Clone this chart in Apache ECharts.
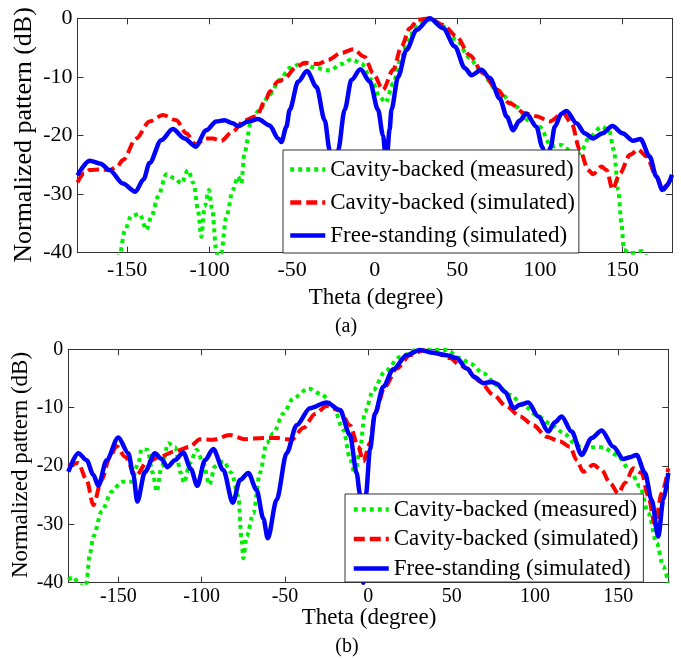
<!DOCTYPE html>
<html><head><meta charset="utf-8">
<script src="https://cdn.jsdelivr.net/npm/echarts@6/dist/echarts.min.js"></script>
<style>html,body{margin:0;padding:0;background:#fff}#c{width:681px;height:660px}</style>
</head><body><div id="c"></div>
<script>
const xTicks = [-150, -100, -50, 0, 50, 100, 150];
const yTicks = [-40, -30, -20, -10, 0];
const seriesNames = ['Cavity-backed (measured)', 'Cavity-backed (simulated)', 'Free-standing (simulated)'];

// Panel (a): [theta (deg), normalized pattern (dB)]
const aCavMeas = [[-158,-45],[-154.3,-40.1],[-151.3,-36.1],[-147.4,-33.7],[-142.3,-33.4],[-138.3,-36.1],[-135.3,-33.9],[-131.2,-30.4],[-126.2,-26.6],[-121.2,-27.3],[-117.1,-28.2],[-113.1,-25.9],[-109.6,-28.2],[-107.1,-32.7],[-105,-37.3],[-103,-32.1],[-100.4,-29.3],[-98.4,-32.7],[-96,-39.5],[-94.5,-42],[-93,-40.1],[-89.9,-33.9],[-85.9,-29.3],[-82.8,-27],[-80.8,-28.2],[-78.9,-23],[-74.8,-17.4],[-69.7,-15.6],[-63.6,-13],[-57.5,-10.5],[-51.5,-8.5],[-44.4,-7.7],[-35.3,-8.5],[-27.3,-8.9],[-20.2,-7.8],[-14.1,-7],[-8.1,-7.7],[-2,-10.5],[3,-13.4],[6.7,-14.4],[11.1,-11.1],[16.2,-6.6],[21.2,-2.8],[27.3,-0.6],[33.3,-0.3],[41.4,-1.4],[49.5,-3.7],[57.5,-6.8],[63.6,-8.8],[73.7,-12.2],[85.8,-15.1],[92.9,-17.4],[99.9,-18.5],[107,-21.9],[113.1,-21.6],[116.1,-22.2],[120.1,-23.6],[124.2,-23],[130.3,-20.2],[137.3,-18.5],[141.9,-19.1],[144.8,-22.5],[147.4,-29.3],[149.4,-35],[150.8,-39.5],[154.4,-40.1],[157.5,-40],[161.5,-39.7],[163.5,-40.1],[166,-43]];
const aCavSim = [[-180,-28],[-176,-26.5],[-172.6,-25.9],[-166,-25.8],[-160.6,-25.9],[-156,-25.3],[-152.5,-24.2],[-144.4,-20.5],[-136.4,-17.6],[-128.3,-16.5],[-120.2,-17.4],[-114.2,-19.6],[-108.5,-21.5],[-102,-20.5],[-98,-20.5],[-93,-20.9],[-86,-19.3],[-78.9,-17.4],[-71.8,-16.7],[-65.8,-13.8],[-63.6,-12.5],[-58.6,-10.8],[-55.5,-10.5],[-47.4,-8.3],[-42.4,-7.6],[-34.3,-7.8],[-28.3,-7.1],[-20.2,-5.9],[-13.1,-5.3],[-6.1,-6.6],[-1,-9.4],[5,-12.2],[11.1,-8.8],[16.2,-4.8],[21.2,-1.7],[26.2,-0.2],[33.3,0],[41.4,-1.1],[49.5,-3.1],[57.5,-6.3],[65.6,-9.4],[73.7,-12.1],[81.8,-14.5],[90.9,-16.2],[97.9,-16.7],[106,-17.6],[114.1,-16.2],[119.2,-17.9],[124.2,-22.5],[129.3,-25.9],[132.2,-26.6],[137.3,-25.3],[140.4,-25.9],[144,-29.2],[148.4,-26.5],[154.5,-23.3],[159.5,-22.4],[164.6,-23.6],[170.6,-27],[174.6,-29.3],[180,-27]];
const aFree = [[-180,-26.8],[-172.6,-24.3],[-166,-24.8],[-160.6,-25.9],[-152.5,-28.2],[-145,-29.6],[-140,-27.5],[-136.4,-24.7],[-129.3,-20.8],[-122.3,-18.9],[-115.2,-20.5],[-108.5,-21.9],[-102,-19.1],[-96,-17.6],[-91,-17.4],[-86,-17.9],[-82.8,-18.4],[-76.7,-17.6],[-70.7,-17.2],[-63.6,-18.3],[-58.5,-20.5],[-56.5,-21.1],[-53.5,-18.5],[-51.5,-15.6],[-46.4,-10.8],[-41,-9.0],[-35.3,-11.7],[-30.3,-17.4],[-27.3,-22.5],[-25,-35],[-22.2,-22.5],[-18.2,-15.6],[-14.1,-10.5],[-8.7,-8.7],[-3,-10.8],[2,-15.6],[5,-20],[7,-25],[9,-19],[10.1,-15.6],[14.1,-10],[19.2,-5.4],[25.3,-2],[33.3,0],[41.4,-1.7],[48.5,-4.8],[54.5,-8.5],[58.6,-9.7],[64.6,-8.8],[69.7,-10.2],[75.7,-13.7],[80,-16.8],[83.8,-19.1],[87.5,-17.5],[91.9,-16.3],[97.9,-18.5],[101.5,-22],[104,-25],[106.5,-22],[109,-18.5],[113,-16.3],[116.1,-15.8],[122.2,-17.9],[127,-19.6],[132.2,-20.5],[138,-19.6],[143.9,-18.4],[150,-19.6],[156.4,-20.9],[160.9,-20.6],[166.5,-23.6],[170.5,-27],[174.2,-29.3],[177,-28.5],[180,-26.7]];

// Panel (b)
const bCavMeas = [[-180,-39.5],[-177,-39],[-173,-40.5],[-169.4,-40.5],[-167,-35],[-165,-32.1],[-160,-27.8],[-154,-24.4],[-148,-22.7],[-142,-22.7],[-138,-19.5],[-136,-17.1],[-132.6,-17.2],[-129.3,-21.2],[-127,-24.4],[-124,-20.1],[-120,-16.1],[-116,-16.8],[-112.5,-21.2],[-110.6,-22.9],[-107,-19.5],[-103,-17.2],[-99,-19.5],[-95.4,-23.2],[-92,-20.1],[-87,-19.2],[-82,-21.2],[-78,-25.2],[-76,-32.7],[-75,-35.8],[-73,-32.1],[-69,-28.1],[-65,-21.2],[-61,-16.1],[-57,-14.4],[-51,-11],[-45,-8.4],[-36,-6.7],[-28,-7.7],[-21,-9.8],[-15,-13.8],[-11,-18.7],[-8,-21.5],[-5,-17.2],[-2,-10.7],[3,-7],[10,-3.8],[19,-1.3],[29,-0.1],[39,-0.1],[47,-0.1],[55,-1.5],[61,-2.4],[69,-4.1],[77,-6.1],[85,-7.8],[93,-9.5],[101,-11.3],[109,-12.7],[117,-14.3],[124,-16.1],[129,-17.2],[135,-16.8],[141,-16.8],[149,-18.1],[157,-20.7],[163,-23.5],[168,-28.1],[173,-33.2],[177,-37.2],[180,-40]];
const bCavSim = [[-180,-20.1],[-174,-19.5],[-169,-22.4],[-165,-26.7],[-160,-22.4],[-155,-18.4],[-151,-16.6],[-146,-18.4],[-139.4,-21.7],[-133,-19.4],[-125,-18.4],[-116,-17.5],[-107,-16.7],[-101,-15.4],[-93,-15.5],[-83,-14.7],[-74,-15.4],[-63,-15.2],[-55,-15.2],[-46,-15.5],[-39,-13.5],[-32,-11.1],[-25,-9.7],[-17,-10.5],[-11,-13],[-6,-16.7],[-3,-19.2],[1,-16.1],[4,-11],[10,-6.4],[17,-3.3],[25,-1],[33,-0.2],[41,-0.7],[49,-1.5],[55,-2.7],[59,-3.3],[67,-5.5],[75,-7.8],[83,-9.8],[91,-11.5],[99,-13],[107,-15],[115,-15.8],[121,-16.7],[125,-19],[129,-21],[135,-19.8],[140,-20.7],[145,-22.9],[150,-24.7],[154,-22.9],[159,-20.4],[164,-21.2],[168,-25.2],[172,-30.1],[176,-24.7],[180,-20.4]];
const bFree = [[-180,-21],[-174,-17.8],[-169,-19],[-165,-21.5],[-162,-23.4],[-157,-19],[-150,-15.1],[-144,-17.8],[-141,-21.5],[-138.6,-26.1],[-134,-21],[-128,-17.8],[-124,-18.8],[-120.6,-20.2],[-116,-19],[-111,-17.7],[-106.5,-20.5],[-102.6,-23.4],[-98,-19],[-93,-17.1],[-87,-20.7],[-81.3,-26.3],[-77,-22.4],[-72,-21.2],[-67,-24.1],[-63,-29],[-60.3,-32.4],[-55,-25.8],[-49,-17.8],[-43,-13],[-35,-10.1],[-25,-9.1],[-17,-10.4],[-11,-14.7],[-7,-21.2],[-5,-24.8],[-3,-40],[-1.4,-24.8],[1,-17.2],[4,-11],[9,-6.4],[15,-3.4],[23,-1],[31,-0.1],[39,-0.6],[47,-1],[53,-1.5],[59,-3.3],[64,-4.8],[69,-5.8],[74,-5.6],[77,-5.9],[82,-7.3],[87.4,-10.1],[91,-9.5],[96,-9.1],[102,-11.5],[108,-14.1],[112,-12.5],[116,-11.5],[122,-14.1],[128,-18.1],[134,-15.2],[140,-13.9],[147,-16.7],[153,-18.8],[157,-18.5],[161,-18.1],[166,-21.2],[170,-25.8],[174,-32.1],[177,-25.8],[180,-21.2]];

const FONT = 'Liberation Serif';
const AX = '#333';

function xAx(grid, pos, showLabel, fs, margin) {
  return {
    type: 'value', gridIndex: grid, position: pos, min: -180, max: 180,
    axisLine: { show: true, onZero: false, lineStyle: { color: AX, width: 1 } },
    axisTick: { show: true, inside: true, length: 6, customValues: xTicks, lineStyle: { color: AX } },
    axisLabel: { show: showLabel, customValues: xTicks, fontFamily: FONT, fontSize: fs, color: '#000', margin: margin },
    splitLine: { show: false }
  };
}
function yAx(grid, pos, showLabel, fs, margin) {
  return {
    type: 'value', gridIndex: grid, position: pos, min: -40, max: 0, interval: 10,
    axisLine: { show: true, onZero: false, lineStyle: { color: AX, width: 1 } },
    axisTick: { show: true, inside: true, length: 6, lineStyle: { color: AX } },
    axisLabel: { show: showLabel, fontFamily: FONT, fontSize: fs, color: '#000', margin: margin },
    splitLine: { show: false }
  };
}
const styles = [
  { color: '#00ee00', width: 4, type: [4, 4] },
  { color: '#ff0000', width: 4, type: [11, 5] },
  { color: '#0000ff', width: 4.5, type: 'solid' }
];
function mk(name, data, idx, st) {
  return {
    name: name, type: 'line', xAxisIndex: idx, yAxisIndex: idx, data: data,
    symbol: 'none', smooth: 0.3, smoothMonotone: 'x', clip: true,
    lineStyle: { color: st.color, width: st.width, type: st.type },
    itemStyle: { color: st.color }, z: 2
  };
}
function legend(left, top, padding, gap) {
  return {
    data: seriesNames, orient: 'vertical', left: left, top: top, padding: padding,
    itemGap: gap, itemWidth: 35, itemHeight: 14, selectedMode: false,
    backgroundColor: '#fff', borderColor: AX, borderWidth: 1, borderRadius: 0,
    itemStyle: { opacity: 0, borderWidth: 0 },
    lineStyle: { width: 4.5 },
    textStyle: { fontFamily: FONT, fontSize: 23, color: '#000' }, z: 10
  };
}
function txt(x, y, text, fs, rot) {
  return { type: 'text', x: x, y: y, rotation: rot || 0, z: 20,
    style: { text: text, font: fs + 'px "' + FONT + '"', fill: '#000', align: 'center', verticalAlign: 'middle' } };
}

const chart = echarts.init(document.getElementById('c'), null, { renderer: 'canvas' });
chart.setOption({
  animation: false,
  backgroundColor: '#fff',
  grid: [
    { left: 77.5, top: 18.3, width: 594.5, height: 234.4 },
    { left: 68.3, top: 349.3, width: 600, height: 233.4 }
  ],
  xAxis: [xAx(0, 'bottom', true, 22, 7), xAx(0, 'top', false, 22, 7), xAx(1, 'bottom', true, 20, 4), xAx(1, 'top', false, 20, 4)],
  yAxis: [yAx(0, 'left', true, 22, 5), yAx(0, 'right', false, 22, 5), yAx(1, 'left', true, 20, 5), yAx(1, 'right', false, 20, 5)],
  legend: [legend(283, 150, [8, 4, 6, 5], 10), legend(345, 494, [4, 5, 2, 6.5], 6.5)],
  series: [
    mk(seriesNames[0], aCavMeas, 0, styles[0]),
    mk(seriesNames[1], aCavSim, 0, styles[1]),
    mk(seriesNames[2], aFree, 0, styles[2]),
    mk(seriesNames[0], bCavMeas, 2, styles[0]),
    mk(seriesNames[1], bCavSim, 2, styles[1]),
    mk(seriesNames[2], bFree, 2, styles[2])
  ],
  graphic: [
    txt(24, 135, 'Normalized pattern (dB)', 26, Math.PI / 2),
    txt(376, 298, 'Theta (degree)', 23),
    txt(346, 327, '(a)', 20),
    txt(21, 465, 'Normalized pattern (dB)', 23, Math.PI / 2),
    txt(369, 618, 'Theta (degree)', 23),
    txt(347, 647, '(b)', 20)
  ]
});
</script>
</body></html>
